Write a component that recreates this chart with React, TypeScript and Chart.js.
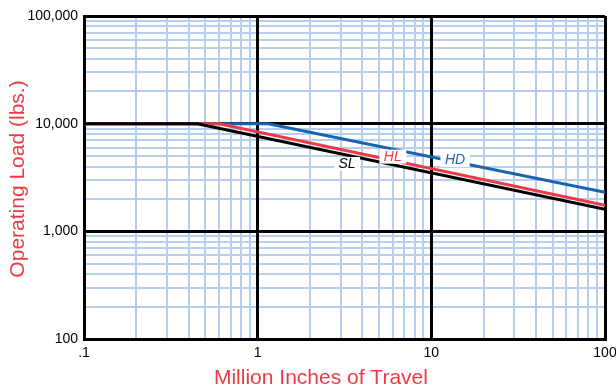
import React, { useEffect, useRef } from 'react';
import { Chart, registerables } from 'chart.js';

Chart.register(...registerables);

// ---- data ----
const travelDecades = [0.1, 1, 10, 100];
const loadDecades = [100, 1000, 10000, 100000];
const gridMultipliers = [1, 2, 3, 4, 5, 6, 7, 8, 9];
const xTickLabels = ['.1', '1', '10', '100'];
const yTickLabels = ['100', '1,000', '10,000', '100,000'];

const slTravel = [0.1, 0.45, 100];
const slLoad = [10000, 10000, 1600];
const hlTravel = [0.1, 0.6, 100];
const hlLoad = [10000, 10000, 1750];
const hdTravel = [0.1, 1.15, 100];
const hdLoad = [10000, 10000, 2300];

const curveNames = ['SL', 'HL', 'HD'];
const labelTravel = [3.27, 6.0, 13.7];
const labelLoad = [4225, 4940, 4600];

const xTitle = 'Million Inches of Travel';
const yTitle = 'Operating Load (lbs.)';

// ---- styles ----
const RED = '#ed3b45';
const BLUE = '#1a64ae';
const BLACK = '#000000';
const MINOR = '#b7cfec';
const FONT = '"Liberation Sans", Arial, Helvetica, sans-serif';

const round = (v: number) => parseFloat(v.toPrecision(12));
const isDecade = (v: number) => Math.abs(Math.log10(v) - Math.round(Math.log10(v))) < 1e-9;

function gridValues(decades: number[]) {
  const out: number[] = [];
  for (let i = 0; i < decades.length - 1; i++) {
    for (const m of gridMultipliers) out.push(round(decades[i] * m));
  }
  out.push(decades[decades.length - 1]);
  return out;
}

function labelFor(v: number, decades: number[], labels: string[]) {
  const i = decades.findIndex((d) => Math.abs(d - v) / d < 1e-9);
  return i >= 0 ? labels[i] : '';
}

const toPoints = (xs: number[], ys: number[]) => xs.map((x, i) => ({ x, y: ys[i] }));

export default function App() {
  const ref = useRef<HTMLCanvasElement | null>(null);

  useEffect(() => {
    document.body.style.margin = '0';
    const canvas = ref.current;
    if (!canvas) return;

    const curveColors = [BLACK, RED, BLUE];

    const labelsPlugin = {
      id: 'curveLabels',
      afterDatasetsDraw(chart: any) {
        const { ctx, scales } = chart;
        ctx.save();
        ctx.font = `italic 14px ${FONT}`;
        ctx.textAlign = 'center';
        ctx.textBaseline = 'middle';
        curveNames.forEach((name, i) => {
          const px = scales.x.getPixelForValue(labelTravel[i]);
          const py = scales.y.getPixelForValue(labelLoad[i]);
          const w = ctx.measureText(name).width + 9;
          ctx.fillStyle = '#ffffff';
          ctx.fillRect(px - w / 2, py - 7, w, 14);
          ctx.fillStyle = curveColors[i];
          ctx.fillText(name, px, py + 0.5);
        });
        ctx.restore();
      },
    };

    const titlesPlugin = {
      id: 'axisTitles',
      afterDraw(chart: any) {
        const { ctx, width } = chart;
        ctx.save();
        ctx.fillStyle = RED;
        ctx.font = `21px ${FONT}`;
        ctx.textAlign = 'center';
        ctx.textBaseline = 'middle';
        ctx.fillText(xTitle, width * 0.521, 378);
        ctx.translate(18, 179);
        ctx.rotate(-Math.PI / 2);
        ctx.fillText(yTitle, 0, 0);
        ctx.restore();
      },
    };

    const xMinor = gridValues(travelDecades);
    const yMinor = gridValues(loadDecades);

    const tickFont = { family: FONT, size: 14 };

    const chart = new Chart(canvas, {
      type: 'line',
      data: {
        datasets: [
          { label: 'SL', data: toPoints(slTravel, slLoad), borderColor: BLACK, borderWidth: 3, pointRadius: 0, fill: false, tension: 0 },
          { label: 'HL', data: toPoints(hlTravel, hlLoad), borderColor: RED, borderWidth: 3, pointRadius: 0, fill: false, tension: 0 },
          { label: 'HD', data: toPoints(hdTravel, hdLoad), borderColor: BLUE, borderWidth: 3, pointRadius: 0, fill: false, tension: 0 },
        ],
      },
      options: {
        animation: false,
        responsive: false,
        maintainAspectRatio: false,
        parsing: false,
        layout: { padding: { top: 16, right: 11, left: 0, bottom: 0 } },
        plugins: { legend: { display: false }, tooltip: { enabled: false } },
        scales: {
          x: {
            type: 'logarithmic',
            position: 'bottom',
            min: 0.1,
            max: 100,
            afterBuildTicks: (s: any) => { s.ticks = xMinor.map((value) => ({ value })); },
            afterFit: (s: any) => { s.height = 51; s.paddingLeft = 0; s.paddingRight = 0; },
            ticks: {
              autoSkip: false,
              maxRotation: 0,
              minRotation: 0,
              padding: 6,
              color: BLACK,
              font: tickFont,
              callback: (v: any) => labelFor(Number(v), travelDecades, xTickLabels),
            },
            grid: {
              drawTicks: false,
              color: (c: any) => (c.tick && isDecade(c.tick.value) ? BLACK : MINOR),
              lineWidth: (c: any) => (c.tick && isDecade(c.tick.value) ? 3 : 2),
            },
            border: { color: BLACK, width: 3 },
          },
          y: {
            type: 'logarithmic',
            position: 'left',
            min: 100,
            max: 100000,
            afterBuildTicks: (s: any) => { s.ticks = yMinor.map((value) => ({ value })); },
            afterFit: (s: any) => { s.width = 84; s.paddingTop = 0; s.paddingBottom = 0; },
            ticks: {
              autoSkip: false,
              padding: 6,
              color: BLACK,
              font: tickFont,
              callback: (v: any) => labelFor(Number(v), loadDecades, yTickLabels),
            },
            grid: {
              drawTicks: false,
              color: (c: any) => (c.tick && isDecade(c.tick.value) ? BLACK : MINOR),
              lineWidth: (c: any) => (c.tick && isDecade(c.tick.value) ? 3 : 2),
            },
            border: { color: BLACK, width: 3 },
          },
          x2: {
            type: 'logarithmic',
            axis: 'x',
            position: 'bottom',
            min: 0.1,
            max: 100,
            afterBuildTicks: (s: any) => { s.ticks = travelDecades.map((value) => ({ value })); },
            afterFit: (s: any) => { s.height = 0; s.paddingLeft = 0; s.paddingRight = 0; },
            ticks: { display: false },
            grid: { drawTicks: false, color: BLACK, lineWidth: 3 },
            border: { display: false },
          },
          y2: {
            type: 'logarithmic',
            axis: 'y',
            position: 'left',
            min: 100,
            max: 100000,
            afterBuildTicks: (s: any) => { s.ticks = loadDecades.map((value) => ({ value })); },
            afterFit: (s: any) => { s.width = 0; s.paddingTop = 0; s.paddingBottom = 0; },
            ticks: { display: false },
            grid: { drawTicks: false, color: BLACK, lineWidth: 3 },
            border: { display: false },
          },
        },
      } as any,
      plugins: [labelsPlugin, titlesPlugin],
    });

    return () => chart.destroy();
  }, []);

  return (
    <div style={{ width: 616, height: 390 }}>
      <canvas ref={ref} width={616} height={390} style={{ display: 'block' }} />
    </div>
  );
}
